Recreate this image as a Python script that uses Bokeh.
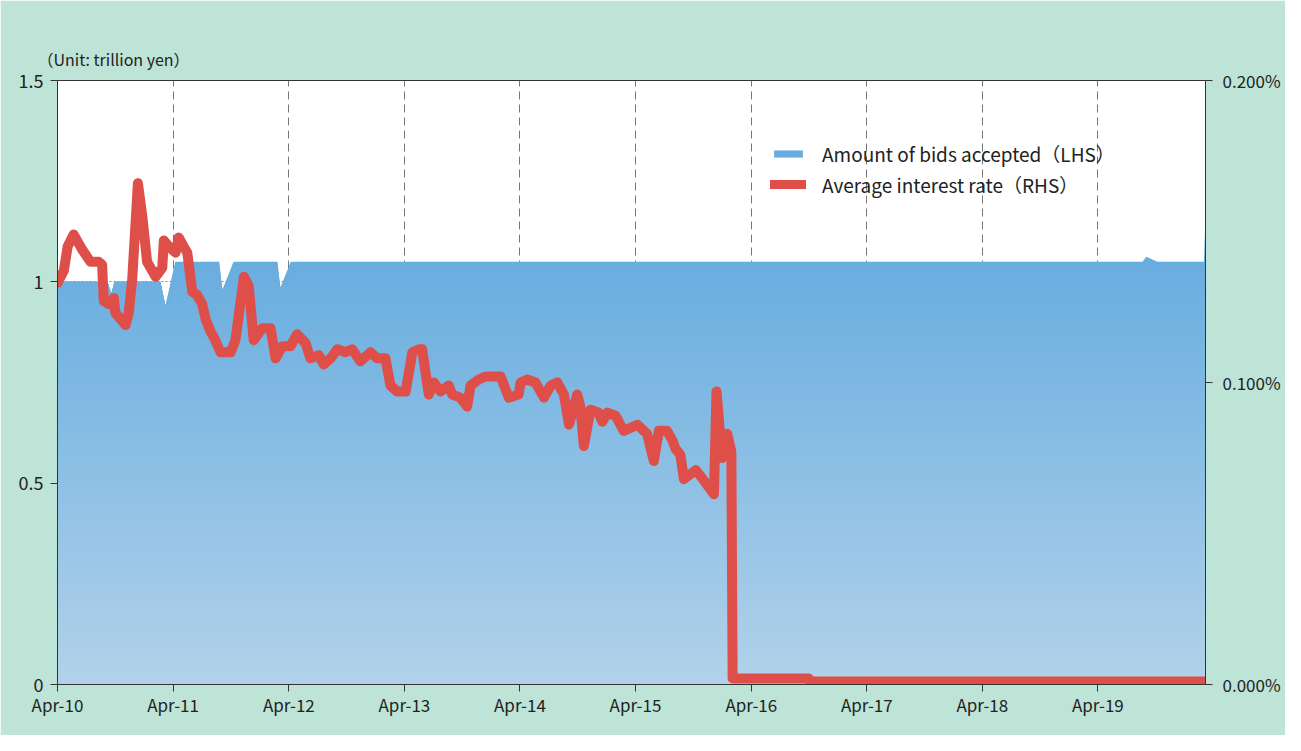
import numpy as np
import pandas as pd
from bokeh.plotting import figure
from bokeh.models import (Range1d, LinearAxis, FixedTicker, PrintfTickFormatter,
                          Legend, LegendItem, Title)
from bokeh.embed import file_html
from bokeh.resources import INLINE

# ---------------- data ----------------
bid_dates = ["2010-04-01", "2010-09-06", "2010-09-18", "2010-09-28", "2011-02-20",
             "2011-03-08", "2011-04-08", "2011-08-25", "2011-09-04", "2011-10-09",
             "2012-02-25", "2012-03-05", "2012-04-07", "2019-08-20", "2019-09-01",
             "2019-10-06", "2020-03-01", "2020-03-06"]
bid_amounts = [1.0, 1.0, 0.97, 1.0, 1.0,
               0.94, 1.05, 1.05, 0.98, 1.05,
               1.05, 0.985, 1.05, 1.05, 1.062,
               1.05, 1.05, 1.16]

rate_dates = ["2010-04-01", "2010-04-21", "2010-05-03", "2010-05-22", "2010-06-18",
              "2010-07-14", "2010-08-09", "2010-08-20", "2010-08-25", "2010-09-10",
              "2010-09-26", "2010-10-01", "2010-10-17", "2010-11-02", "2010-11-12",
              "2010-11-23", "2010-12-11", "2010-12-25", "2011-01-09", "2011-02-05",
              "2011-02-26", "2011-03-03", "2011-03-19", "2011-04-09", "2011-04-19",
              "2011-05-05", "2011-05-16", "2011-06-01", "2011-06-16", "2011-07-02",
              "2011-07-13", "2011-07-28", "2011-08-08", "2011-08-29", "2011-09-30",
              "2011-10-15", "2011-11-11", "2011-11-26", "2011-12-12", "2012-01-08",
              "2012-02-03", "2012-02-19", "2012-03-11", "2012-04-06", "2012-04-27",
              "2012-05-24", "2012-06-08", "2012-07-05", "2012-07-20", "2012-08-11",
              "2012-09-01", "2012-09-27", "2012-10-18", "2012-11-13", "2012-12-15",
              "2013-01-05", "2013-01-31", "2013-02-16", "2013-03-09", "2013-04-05",
              "2013-04-26", "2013-05-17", "2013-05-27", "2013-06-17", "2013-07-03",
              "2013-07-24", "2013-08-19", "2013-08-30", "2013-09-25", "2013-10-16",
              "2013-10-27", "2013-11-22", "2013-12-13", "2014-01-30", "2014-02-25",
              "2014-03-28", "2014-04-03", "2014-04-24", "2014-05-20", "2014-06-16",
              "2014-07-07", "2014-07-28", "2014-08-18", "2014-09-03", "2014-09-29",
              "2014-10-09", "2014-10-20", "2014-11-10", "2014-12-06", "2014-12-17",
              "2015-01-02", "2015-01-28", "2015-02-23", "2015-04-07", "2015-05-08",
              "2015-05-29", "2015-06-14", "2015-07-10", "2015-07-26", "2015-08-06",
              "2015-08-21", "2015-09-01", "2015-10-08", "2015-10-24", "2015-12-05",
              "2015-12-13", "2015-12-31", "2016-01-16", "2016-01-29", "2016-02-02",
              "2016-09-30", "2016-10-05", "2020-03-06"]
rate_values = [0.133, 0.137, 0.145, 0.149, 0.144,
               0.140, 0.140, 0.139, 0.127, 0.126,
               0.128, 0.123, 0.121, 0.119, 0.123,
               0.134, 0.166, 0.155, 0.140, 0.135,
               0.138, 0.147, 0.145, 0.143, 0.148,
               0.145, 0.143, 0.130, 0.129, 0.126,
               0.121, 0.117, 0.115, 0.110, 0.110,
               0.114, 0.135, 0.132, 0.114, 0.118,
               0.118, 0.108, 0.112, 0.112, 0.116,
               0.113, 0.108, 0.109, 0.106, 0.108,
               0.111, 0.110, 0.111, 0.107, 0.110,
               0.108, 0.108, 0.099, 0.097, 0.097,
               0.110, 0.111, 0.111, 0.096, 0.100,
               0.097, 0.099, 0.096, 0.095, 0.092,
               0.099, 0.101, 0.102, 0.102, 0.095,
               0.096, 0.100, 0.101, 0.100, 0.095,
               0.099, 0.100, 0.096, 0.086, 0.096,
               0.092, 0.079, 0.091, 0.090, 0.087,
               0.090, 0.089, 0.084, 0.086, 0.083,
               0.074, 0.084, 0.084, 0.081, 0.078,
               0.076, 0.068, 0.071, 0.069, 0.063,
               0.097, 0.075, 0.083, 0.077, 0.002,
               0.002, 0.001, 0.001]

tick_dates = ["2010-04-01", "2011-04-01", "2012-04-01", "2013-04-01", "2014-04-01",
              "2015-04-01", "2016-04-01", "2017-04-01", "2018-04-01", "2019-04-01"]
tick_labels = ["Apr-10", "Apr-11", "Apr-12", "Apr-13", "Apr-14",
               "Apr-15", "Apr-16", "Apr-17", "Apr-18", "Apr-19"]
left_ticks = [0, 0.5, 1, 1.5]
left_tick_labels = ["0", "0.5", "1", "1.5"]
right_ticks = [0, 0.1, 0.2]

unit_text = "（Unit: trillion yen）"
legend_labels = ["Amount of bids accepted（LHS）", "Average interest rate（RHS）"]

# ---------------- style ----------------
FONT = "Noto Sans CJK JP"
BG = "#bee3d7"
TXT = "#222222"
AX = "#333333"
RED = "#df4f4a"
TOP_C = np.array([0x68, 0xad, 0xdf])
BOT_C = np.array([0xb2, 0xd2, 0xea])


def grad_color(v):
    t = min(max(v / 1.05, 0.0), 1.0)
    c = BOT_C + (TOP_C - BOT_C) * t
    return "#%02x%02x%02x" % tuple(int(round(a)) for a in c)


p = figure(frame_width=1148, frame_height=604, x_axis_type="datetime",
           x_range=Range1d(pd.Timestamp("2010-04-01"), pd.Timestamp("2020-03-06")),
           y_range=Range1d(0, 1.5),
           output_backend="svg", toolbar_location=None,
           min_border_left=57, min_border_right=80, min_border_top=80, min_border_bottom=51)
p.border_fill_color = BG
p.background_fill_color = "white"
p.outline_line_color = AX
p.outline_line_width = 1

p.extra_y_ranges = {"rate": Range1d(0, 0.2)}

# unit label as a left-aligned title above the frame
p.add_layout(Title(text=unit_text, align="left", offset=-20, standoff=19,
                   text_font=FONT, text_font_size="16px", text_color=TXT,
                   text_font_style="normal"), "above")

# gradient area (stacked layers, top colour first)
bx = pd.to_datetime(bid_dates)
amt = np.array(bid_amounts)
top_layer = p.varea(x=bx, y1=0, y2=amt, fill_color=grad_color(1.2))
for hi in np.arange(1.04, 0.0, -0.02):
    p.varea(x=bx, y1=0, y2=np.minimum(amt, hi), fill_color=grad_color(hi - 0.01))

rx = pd.to_datetime(rate_dates)
rline = p.line(x=rx, y=rate_values, y_range_name="rate", line_color=RED, line_width=10,
               line_join="round", line_cap="round")

# axes
tick_ms = [int(pd.Timestamp(d).value // 10**6) for d in tick_dates]
xax = p.xaxis[0]
xax.ticker = FixedTicker(ticks=tick_ms)
xax.major_label_overrides = {t: l for t, l in zip(tick_ms, tick_labels)}
yax = p.yaxis[0]
yax.ticker = FixedTicker(ticks=left_ticks)
yax.major_label_overrides = {t: l for t, l in zip(left_ticks, left_tick_labels)}

rax = LinearAxis(y_range_name="rate", ticker=FixedTicker(ticks=right_ticks),
                 formatter=PrintfTickFormatter(format="%.3f%%"))
p.add_layout(rax, "right")

for ax, fs in ((xax, "17px"), (yax, "18px"), (rax, "17px")):
    ax.axis_line_color = AX
    ax.major_tick_line_color = AX
    ax.minor_tick_line_color = None
    ax.major_tick_out = 7
    ax.major_tick_in = 0
    ax.major_label_text_font = FONT
    ax.major_label_text_font_size = fs
    ax.major_label_text_color = TXT
xax.major_label_standoff = 0
yax.major_label_standoff = 7
rax.major_label_standoff = 10

p.xgrid.grid_line_color = "#777777"
p.xgrid.grid_line_dash = "8 5"
p.xgrid.grid_line_width = 1
p.ygrid.grid_line_color = "#888888"
p.ygrid.grid_line_dash = "2 2"
p.ygrid.grid_line_width = 1

legend = Legend(items=[LegendItem(label=legend_labels[0], renderers=[top_layer]),
                       LegendItem(label=legend_labels[1], renderers=[rline])],
                location=(713, 486), glyph_width=36, glyph_height=9, label_height=20,
                label_standoff=16, spacing=4, padding=0, margin=0,
                border_line_color=None, background_fill_alpha=0,
                label_text_font=FONT, label_text_font_size="19px", label_text_color=TXT)
p.add_layout(legend, "center")

open("out.html", "w").write(file_html(p, INLINE))
